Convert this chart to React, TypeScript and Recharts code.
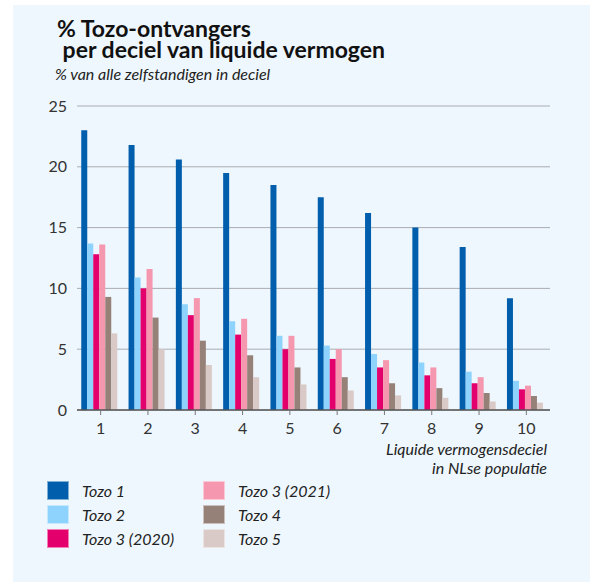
import React from 'react';
import { BarChart, Bar, XAxis, YAxis, CartesianGrid } from 'recharts';

const deciles = ['1', '2', '3', '4', '5', '6', '7', '8', '9', '10'];
const tozo1 = [23.0, 21.8, 20.6, 19.5, 18.5, 17.5, 16.2, 15.0, 13.4, 9.2];
const tozo2 = [13.7, 10.9, 8.7, 7.3, 6.1, 5.3, 4.6, 3.9, 3.15, 2.4];
const tozo3a = [12.8, 10.0, 7.8, 6.2, 5.0, 4.2, 3.5, 2.85, 2.2, 1.7];
const tozo3b = [13.6, 11.6, 9.2, 7.5, 6.1, 5.0, 4.1, 3.5, 2.7, 2.0];
const tozo4 = [9.3, 7.6, 5.7, 4.5, 3.5, 2.7, 2.2, 1.8, 1.4, 1.15];
const tozo5 = [6.3, 5.0, 3.7, 2.7, 2.1, 1.6, 1.2, 1.0, 0.7, 0.6];
const yTicks = [0, 5, 10, 15, 20, 25];

const seriesNames = ['Tozo 1', 'Tozo 2', 'Tozo 3 (2020)', 'Tozo 3 (2021)', 'Tozo 4', 'Tozo 5'];
const seriesKeys = ['t1', 't2', 't3a', 't3b', 't4', 't5'];
const seriesColors = ['#005EAD', '#8ED3FD', '#E4006C', '#F597AE', '#968179', '#D9C9C7'];

const data = deciles.map((d, i) => ({
  decile: d,
  t1: tozo1[i],
  t2: tozo2[i],
  t3a: tozo3a[i],
  t3b: tozo3b[i],
  t4: tozo4[i],
  t5: tozo5[i],
}));

const FONT = 'Lato, "Open Sans", sans-serif';

export default function App() {
  const legendItem = (idx: number, left: number, top: number) => (
    <div key={idx} style={{ position: 'absolute', left, top, height: 20, display: 'flex', alignItems: 'center' }}>
      <div style={{ width: 22, height: 19, background: seriesColors[idx], border: '1px solid rgba(255,255,255,0.5)', boxSizing: 'border-box' }} />
      <span style={{ marginLeft: 13, fontStyle: 'italic', fontSize: 16, color: '#222', fontFamily: FONT }}>{seriesNames[idx]}</span>
    </div>
  );
  return (
    <div style={{ position: 'absolute', left: 0, top: 0, width: 590, height: 582, background: '#fff', fontFamily: FONT }}>
      <div style={{ position: 'absolute', left: 13, top: 5, width: 577, height: 577, background: '#EEF7FD' }} />
      <div style={{ position: 'absolute', left: 57, top: 18, fontSize: 23, fontWeight: 700, color: '#111', lineHeight: '21px', whiteSpace: 'pre' }}>
        {'% Tozo-ontvangers\n per deciel van liquide vermogen'}
      </div>
      <div style={{ position: 'absolute', left: 55, top: 64, fontSize: 16, fontStyle: 'italic', color: '#222', lineHeight: '20px' }}>
        % van alle zelfstandigen in deciel
      </div>
      <div style={{ position: 'absolute', left: 0, top: 0 }}>
        <BarChart
          width={590}
          height={582}
          data={data}
          margin={{ top: 106, right: 40, bottom: 142, left: 0 }}
          barCategoryGap="9%"
          barGap={0}
        >
          <CartesianGrid horizontal={true} vertical={false} stroke="#A9ADB2" strokeWidth={1} />
          <YAxis
            width={77}
            domain={[0, 25]}
            ticks={yTicks}
            axisLine={false}
            tickLine={false}
            tickMargin={4}
            tick={{ fill: '#333', fontSize: 16, fontFamily: FONT }}
            interval={0}
          />
          <XAxis
            dataKey="decile"
            height={30}
            axisLine={{ stroke: '#555', strokeWidth: 1.5 }}
            tickLine={{ stroke: '#777' }}
            tickSize={5}
            tickMargin={8}
            tick={{ fill: '#333', fontSize: 16, fontFamily: FONT }}
            interval={0}
          />
          {seriesKeys.map((k, i) => (
            <Bar key={k} dataKey={k} fill={seriesColors[i]} isAnimationActive={false} />
          ))}
        </BarChart>
      </div>
      <div style={{ position: 'absolute', right: 43, top: 439, fontSize: 16, fontStyle: 'italic', color: '#222', lineHeight: '19px', textAlign: 'right' }}>
        Liquide vermogensdeciel
        <br />
        in NLse populatie
      </div>
      {legendItem(0, 47, 480)}
      {legendItem(1, 47, 504)}
      {legendItem(2, 47, 528)}
      {legendItem(3, 203, 480)}
      {legendItem(4, 203, 504)}
      {legendItem(5, 203, 528)}
    </div>
  );
}
